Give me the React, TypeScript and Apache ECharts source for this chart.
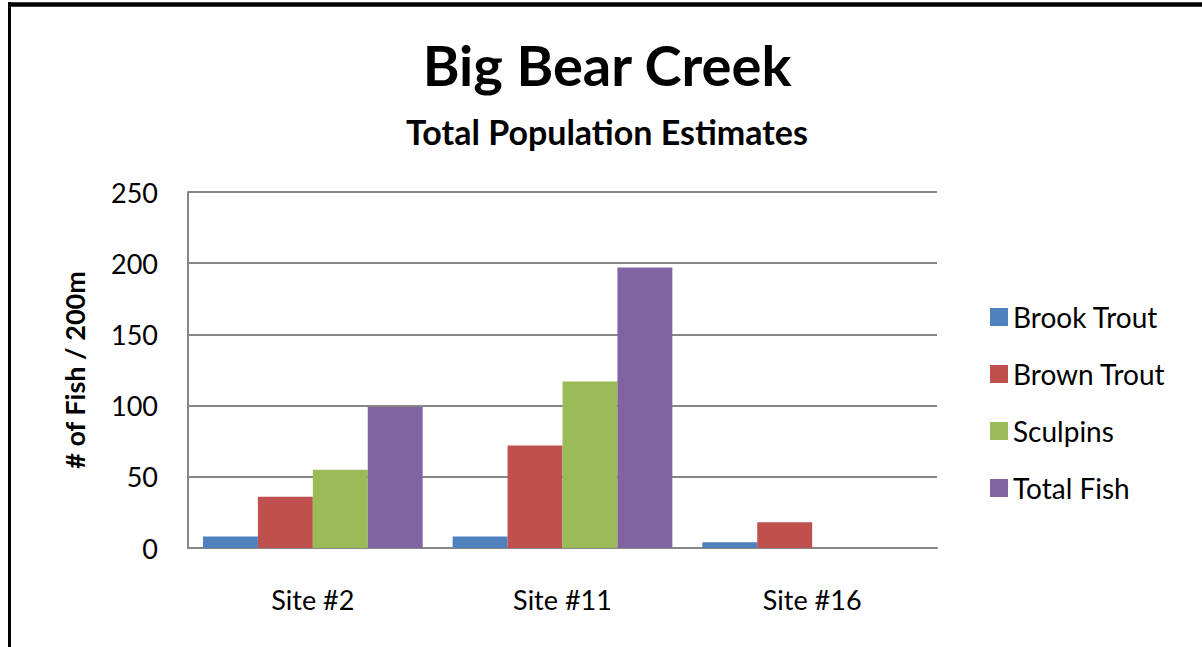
import React, { useEffect, useRef } from "react";
import * as echarts from "echarts";

const categories = ["Site #2", "Site #11", "Site #16"];
const brookTrout = [8, 8, 4];
const brownTrout = [36, 72, 18];
const sculpins = [55, 117, null];
const totalFish = [99, 197, null];
const yTicks = { min: 0, max: 250, interval: 50 };

const FONT = "Lato";

export default function App() {
  const ref = useRef<HTMLDivElement>(null);
  useEffect(() => {
    if (!ref.current) return;
    const chart = echarts.init(ref.current, undefined, { renderer: "svg" });
    const mk = (name: string, data: (number | null)[], color: string) => ({
      name,
      type: "bar",
      data,
      itemStyle: { color },
      barGap: "0%",
      barCategoryGap: "12%",
    });
    chart.setOption({
      animation: false,
      backgroundColor: "#ffffff",
      textStyle: { fontFamily: FONT },
      graphic: [
        { type: "line", shape: { x1: 9.5, y1: 2, x2: 9.5, y2: 647 }, style: { stroke: "#000", lineWidth: 3 } },
        { type: "line", shape: { x1: 8, y1: 4.5, x2: 1202, y2: 4.5 }, style: { stroke: "#000", lineWidth: 4.5 } },
        {
          type: "text",
          x: 607,
          y: 64,
          style: {
            text: "Big Bear Creek",
            fill: "#000",
            font: `bold 56px ${FONT}`,
            textAlign: "center",
            textVerticalAlign: "middle",
          },
        },
        {
          type: "text",
          x: 607,
          y: 131,
          style: {
            text: "Total Population Estimates",
            fill: "#000",
            font: `bold 34px ${FONT}`,
            textAlign: "center",
            textVerticalAlign: "middle",
          },
        },
      ],
      legend: {
        orient: "vertical",
        left: 985,
        top: 298,
        itemWidth: 18,
        itemHeight: 18,
        itemGap: 29,
        icon: "rect",
        textStyle: { fontFamily: FONT, fontSize: 28, color: "#000", padding: [0, 0, 0, 0] },
        data: ["Brook Trout", "Brown Trout", "Sculpins", "Total Fish"],
      },
      grid: { left: 188, top: 192, right: 265, bottom: 99, containLabel: false },
      xAxis: {
        type: "category",
        data: categories,
        axisLine: { lineStyle: { color: "#868686", width: 2 } },
        axisTick: { show: false },
        axisLabel: { color: "#000", fontSize: 27, fontFamily: FONT, margin: 38 },
      },
      yAxis: {
        type: "value",
        min: yTicks.min,
        max: yTicks.max,
        interval: yTicks.interval,
        name: "# of Fish / 200m",
        nameLocation: "middle",
        nameRotate: 90,
        nameGap: 100,
        nameTextStyle: { color: "#000", fontSize: 27, fontWeight: "bold", fontFamily: FONT },
        axisLine: { show: true, lineStyle: { color: "#868686", width: 2 } },
        axisTick: { show: false },
        axisLabel: { color: "#000", fontSize: 27, fontFamily: FONT, margin: 30 },
        splitLine: { lineStyle: { color: "#868686", width: 2 } },
      },
      series: [
        mk("Brook Trout", brookTrout, "#4F81BD"),
        mk("Brown Trout", brownTrout, "#C0504D"),
        mk("Sculpins", sculpins, "#9BBB59"),
        mk("Total Fish", totalFish, "#8064A2"),
      ],
    });
    return () => chart.dispose();
  }, []);
  return (
    <div
      ref={ref}
      style={{ position: "absolute", left: 0, top: 0, width: 1202, height: 647 }}
    />
  );
}
